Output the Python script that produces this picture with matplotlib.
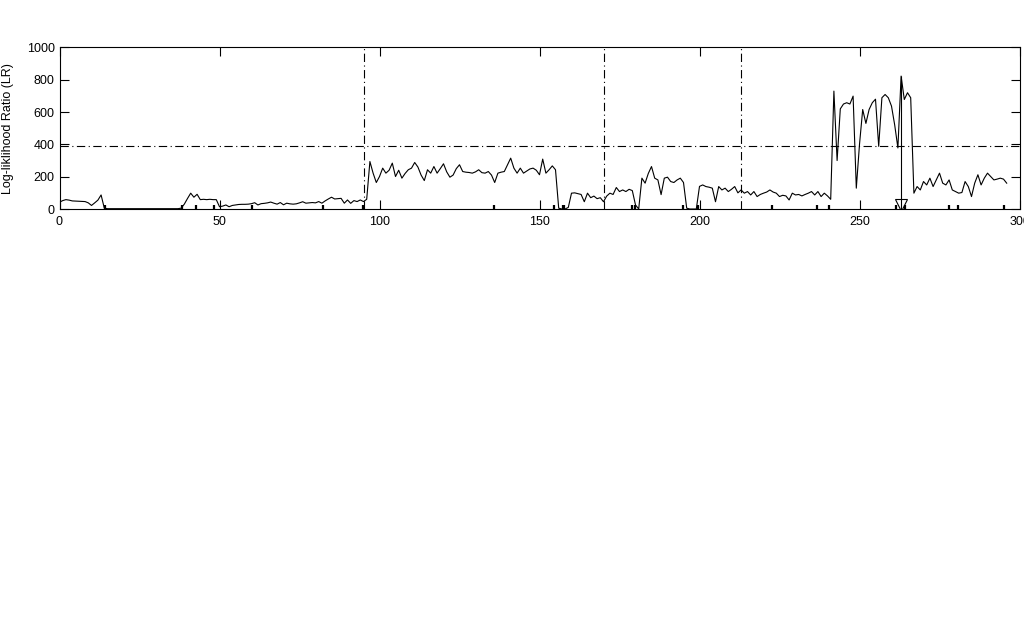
import numpy as np
import matplotlib
matplotlib.use("Agg")
import matplotlib.pyplot as plt

plt.rcParams['font.family'] = ['Liberation Sans', 'DejaVu Sans']
plt.rcParams['lines.scale_dashes'] = False

# ---- data ----
lr_values = [
    42, 52, 58, 55, 50, 49, 48, 47, 46, 38, 22, 38, 55, 87, 5, 2, 2, 2, 2, 2,          # 0-19
    2, 2, 2, 2, 2, 2, 2, 2, 2, 2, 2, 2, 2, 2, 2, 2, 2, 2, 5, 30,                         # 20-39
    65, 98, 73, 91, 58, 60, 58, 60, 58, 58, 14, 18, 25, 14, 22, 25, 28, 29, 29, 30,      # 40-59
    33, 39, 25, 33, 35, 38, 43, 36, 30, 40, 26, 36, 32, 30, 32, 38, 45, 36, 38, 40,      # 60-79
    38, 46, 36, 50, 62, 73, 62, 64, 66, 36, 56, 35, 52, 46, 56, 46, 60, 294, 222, 164,   # 80-99
    201, 253, 222, 240, 284, 201, 240, 191, 220, 243, 253, 288, 260, 210, 176, 243, 222, 263, 222, 250,  # 100-119
    280, 230, 197, 210, 250, 274, 232, 228, 226, 222, 230, 243, 225, 222, 232, 210, 164, 222, 228, 232,  # 120-139
    274, 315, 253, 222, 253, 222, 235, 248, 253, 240, 212, 309, 222, 243, 267, 243, 5, 0, 0, 10,         # 140-159
    98, 100, 95, 90, 45, 98, 70, 80, 64, 70, 45, 80, 98, 90, 133, 108, 118, 108, 122, 114,               # 160-179
    25, 0, 191, 160, 220, 263, 191, 180, 89, 191, 197, 170, 164, 180, 191, 164, 5, 0, 0, 0,              # 180-199
    140, 149, 139, 135, 129, 45, 139, 118, 129, 108, 122, 139, 100, 118, 98, 108, 87, 108, 77, 90,       # 200-219
    98, 105, 118, 105, 98, 77, 85, 81, 56, 98, 87, 90, 81, 90, 98, 108, 87, 108, 77, 98,                 # 220-239
    81, 60, 730, 300, 620, 650, 658, 650, 699, 129, 400, 616, 530, 616, 658, 680, 388, 689, 709, 689,    # 240-259
    637, 520, 378, 823, 678, 720, 689, 98, 139, 118, 170, 149, 191, 139, 180, 222, 160, 149, 180, 118,   # 260-279
    108, 98, 102, 170, 139, 77, 160, 212, 149, 191, 222, 201, 180, 185, 191, 185, 160,                   # 280-296
]
threshold = 390
boundaries = [95, 170, 213]
rug_positions = [14.2, 38.4, 42.7, 48.2, 60.1, 82.2, 94.7, 135.8, 154.4, 157.2, 157.8,
                 178.8, 179.7, 194.7, 199.5, 222.6, 236.7, 240.5, 261.5, 264.3, 278.0,
                 280.8, 295.0]
peak_index = 263
x_ticks = [0, 50, 100, 150, 200, 250, 300]
y_ticks = [0, 200, 400, 600, 800, 1000]
y_label = "Log-liklihood Ratio (LR)"

# ---- figure ----
fig = plt.figure(figsize=(10.24, 6.41), dpi=100)
ax = fig.add_axes([59.5 / 1024, 1 - 209 / 641, 960 / 1024, 161.5 / 641])

x = np.arange(len(lr_values))
ax.plot(x, lr_values, color='black', lw=0.8)

dashdot = (0, (6.0, 2.5, 0.8, 2.5))
ax.axhline(threshold, color='black', lw=0.8, linestyle=dashdot)
for b in boundaries:
    ax.axvline(b, color='black', lw=0.8, linestyle=dashdot)

# rug marks along the bottom
ax.vlines(rug_positions, 0, 25, color='black', lw=1.6)

# stem with triangle marker at detected change point
ax.vlines([peak_index], 0, lr_values[peak_index], color='black', lw=0.8)
ax.plot([peak_index], [25], marker='v', markersize=8, markerfacecolor='none',
        markeredgecolor='black', markeredgewidth=0.8, linestyle='none')

ax.set_xlim(0, 300)
ax.set_ylim(0, 1000)
ax.set_xticks(x_ticks)
ax.set_yticks(y_ticks)
ax.tick_params(axis='both', direction='in', length=6.5, width=0.8,
               labelsize=9, top=True, right=True)
ax.tick_params(axis='x', pad=5)
ax.tick_params(axis='y', pad=3.5)
for s in ax.spines.values():
    s.set_linewidth(0.8)
ax.set_ylabel(y_label, fontsize=9)
ax.yaxis.set_label_coords(-0.047, 0.5)

fig.savefig("out.png", dpi=100)
